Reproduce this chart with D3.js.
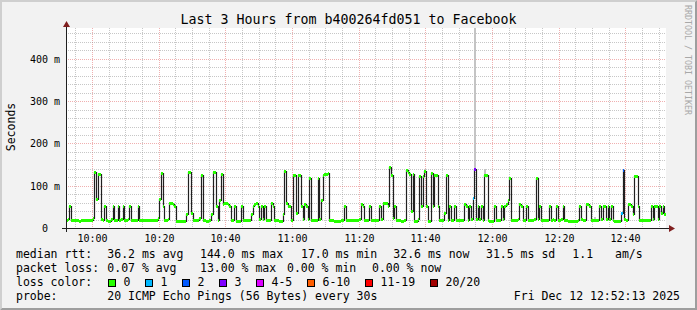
<!DOCTYPE html>
<html>
<head>
<meta charset="utf-8">
<script src="https://cdn.jsdelivr.net/npm/d3@7"></script>
<style>
  body { margin: 0; background: #f2f2f2; }
  svg { display: block; }
  text { font-family: "DejaVu Sans Mono", monospace; fill: #000; }
</style>
</head>
<body>
<div id="chart"></div>
<script>
// time window: last 3 hours, one median every 30 s
const START = Date.UTC(2025, 11, 12, 9, 52, 13);
const END = Date.UTC(2025, 11, 12, 12, 52, 13);
const STEP = 30000;

// median rtt in ms, 20 steps (10 minutes) per row
const medianMs = [
  18,21,53,18,18,18,18,18,16,18,18,18,18,18,18,18,24,132,69,128,
  128,22,20,53,18,17,17,22,53,18,20,53,18,21,53,18,18,22,53,18,
  18,18,18,53,18,18,18,18,18,18,18,18,18,18,18,24,68,131,53,18,
  18,22,58,58,56,53,17,17,17,17,17,17,33,133,133,36,18,18,18,18,
  24,126,18,18,17,17,18,33,133,133,51,20,67,128,57,58,58,56,53,18,
  18,53,17,17,17,53,18,18,18,18,18,33,51,57,58,53,22,53,22,53,
  18,18,20,58,53,18,18,18,17,17,33,134,58,53,51,18,126,126,35,126,
  126,53,22,57,53,22,118,18,18,18,18,118,22,66,126,128,128,131,18,18,
  18,17,17,17,17,18,18,53,18,18,18,18,18,18,18,18,22,57,53,18,
  18,18,53,18,18,18,18,18,53,22,58,58,58,53,144,126,24,53,18,18,
  18,17,17,18,136,132,128,40,128,17,17,22,122,51,122,134,51,17,17,130,
  51,126,126,51,18,18,18,35,126,18,53,18,18,53,18,18,18,18,20,57,
  53,18,53,22,70,140,22,53,22,53,18,126,126,18,17,17,17,53,18,18,
  18,53,22,53,57,67,118,18,18,18,18,22,57,51,18,18,53,18,18,18,
  18,22,118,22,53,18,18,18,18,18,53,18,22,18,53,18,18,22,53,18,
  18,17,17,17,17,17,17,18,53,22,18,18,57,57,53,18,18,18,18,18,
  53,22,53,53,22,53,22,53,18,17,17,17,17,35,136,22,18,57,57,51,
  33,124,122,51,18,18,18,18,18,18,18,53,22,53,53,22,53,35,53,32.6
];

// steps with packet loss (index into medianMs, lost pings out of 20)
const lossIdx = [244, 245, 333, 334];
const lossPings = [1, 3, 1, 2];

// visible smoke (highest ping) above the median
const smokeIdx = [204, 215, 245, 251, 317];
const smokeTop = [140, 140, 500, 140, 26];

const lossLabels = ["0", "1", "2", "3", "4-5", "6-10", "11-19", "20/20"];
const lossColors = ["#26ff00", "#00b8ff", "#0059ff", "#7e00ff", "#dd00ff", "#ff5e00", "#ff0000", "#a10000"];
const lossBins = [0, 1, 2, 3, 4, 6, 11, 20];

const yMax = 473;
const yMajorTicks = [100, 200, 300, 400];

const title = "Last 3 Hours from b400264fd051 to Facebook";
const rttStats = ["36.2 ms avg", "144.0 ms max", "17.0 ms min", "32.6 ms now", "31.5 ms sd", "1.1", "am/s"];
const lossStats = ["0.07 % avg", "13.00 % max", "0.00 % min", "0.00 % now"];
const probeText = "20 ICMP Echo Pings (56 Bytes) every 30s";
const stampText = "Fri Dec 12 12:52:13 2025";

const W = 697, H = 310;
const plot = { left: 66, right: 666, top: 28, bottom: 228 };
const gridMinor = "rgba(143,143,143,0.5)";
const gridMajor = "rgba(222,79,79,0.45)";

const svg = d3.select("#chart").append("svg")
  .attr("width", W).attr("height", H)
  .attr("viewBox", `0 0 ${W} ${H}`);

// background and rrdtool style frame shading
svg.append("rect").attr("width", W).attr("height", H).attr("fill", "#f2f2f2");
svg.append("path").attr("fill", "#cfcfcf")
  .attr("d", `M0,0H${W}L${W - 2},2H2V${H - 2}L0,${H}Z`);
svg.append("path").attr("fill", "#9e9e9e")
  .attr("d", `M${W},0V${H}H0L2,${H - 2}H${W - 2}V2Z`);

const x = d3.scaleUtc().domain([START, END]).range([plot.left, plot.right]);
const y = d3.scaleLinear().domain([0, yMax]).range([plot.bottom, plot.top]);
const px = v => Math.round(x(v));
const py = v => Math.round(y(v));

svg.append("rect")
  .attr("x", plot.left).attr("y", plot.top)
  .attr("width", plot.right - plot.left).attr("height", plot.bottom - plot.top)
  .attr("fill", "#ffffff");

svg.append("clipPath").attr("id", "plot-clip")
  .append("rect")
  .attr("x", plot.left).attr("y", plot.top)
  .attr("width", plot.right - plot.left).attr("height", plot.bottom - plot.top);

// grid
const grid = svg.append("g").attr("stroke-dasharray", "1,1").attr("stroke-width", 1);
const minorTimes = d3.utcMinute.every(5).range(new Date(START), new Date(END));
minorTimes.forEach(t => {
  const major = t.getUTCMinutes() % 20 === 0;
  grid.append("line")
    .attr("x1", px(t) + 0.5).attr("x2", px(t) + 0.5)
    .attr("y1", plot.top).attr("y2", plot.bottom)
    .attr("stroke", major ? gridMajor : gridMinor);
});
d3.range(20, yMax, 20).forEach(v => {
  grid.append("line")
    .attr("x1", plot.left).attr("x2", plot.right)
    .attr("y1", py(v) + 0.5).attr("y2", py(v) + 0.5)
    .attr("stroke", v % 100 === 0 ? gridMajor : gridMinor);
});

// data
const steps = medianMs.map((v, i) => ({ t: START + i * STEP, v: v, i: i }));
const lossAt = new Map(lossIdx.map((idx, k) => [idx, lossPings[k]]));
const colorFor = n => {
  let c = 0;
  lossBins.forEach((b, k) => { if (n >= b) c = k; });
  return lossColors[c];
};

const marks = svg.append("g").attr("clip-path", "url(#plot-clip)");

marks.selectAll("rect.smoke")
  .data(smokeIdx.map((idx, k) => ({ idx: idx, top: smokeTop[k] })))
  .join("rect")
  .attr("class", "smoke")
  .attr("x", d => px(START + d.idx * STEP))
  .attr("width", d => Math.max(1, px(START + (d.idx + 1) * STEP) - px(START + d.idx * STEP)))
  .attr("y", d => py(d.top))
  .attr("height", d => py(medianMs[d.idx]) - py(d.top))
  .attr("fill", "#c4c4c4");

const stepLine = d3.line()
  .x(d => px(d.t) + 0.5)
  .y(d => py(d.v) + 0.5)
  .curve(d3.curveStepAfter);

marks.append("path")
  .datum(steps.concat([{ t: END, v: medianMs[medianMs.length - 1] }]))
  .attr("d", stepLine)
  .attr("fill", "none")
  .attr("stroke", "#202020")
  .attr("stroke-width", 1.2);

marks.selectAll("rect.median")
  .data(steps)
  .join("rect")
  .attr("class", "median")
  .attr("shape-rendering", "crispEdges")
  .attr("x", d => px(d.t))
  .attr("width", d => Math.max(1, px(d.t + STEP) - px(d.t)))
  .attr("y", d => py(d.v) - 1)
  .attr("height", 3)
  .attr("fill", d => colorFor(lossAt.get(d.i) || 0));

// axes
const axisColor = "#1f1f1f", arrowColor = "#801f1f";
svg.append("line")
  .attr("x1", plot.left - 4).attr("x2", plot.right + 4)
  .attr("y1", plot.bottom + 0.5).attr("y2", plot.bottom + 0.5)
  .attr("stroke", axisColor);
svg.append("line")
  .attr("x1", plot.left + 0.5).attr("x2", plot.left + 0.5)
  .attr("y1", plot.bottom + 4).attr("y2", plot.top - 2)
  .attr("stroke", axisColor);
svg.append("path").attr("fill", arrowColor)
  .attr("d", `M${plot.right + 3},${plot.bottom - 3}L${plot.right + 9},${plot.bottom + 0.5}L${plot.right + 3},${plot.bottom + 4}Z`);
svg.append("path").attr("fill", arrowColor)
  .attr("d", `M${plot.left - 3},${plot.top - 1}L${plot.left + 0.5},${plot.top - 7}L${plot.left + 4},${plot.top - 1}Z`);

// tick labels
const labelFmt = d3.utcFormat("%H:%M");
svg.append("g").selectAll("text")
  .data(d3.utcMinute.every(20).range(new Date(START), new Date(END)))
  .join("text")
  .attr("x", d => px(d) + 0.5)
  .attr("y", 241.5)
  .attr("text-anchor", "middle")
  .attr("font-size", "10px")
  .text(d => labelFmt(d));

svg.append("g").selectAll("text")
  .data([0].concat(yMajorTicks))
  .join("text")
  .attr("x", d => d === 0 ? 48 : 60)
  .attr("y", d => py(d) + 4)
  .attr("text-anchor", "end")
  .attr("font-size", "10px")
  .text(d => d === 0 ? "0" : d + " m");

// titles
svg.append("text")
  .attr("x", 348.5).attr("y", 23.5)
  .attr("text-anchor", "middle")
  .attr("font-size", "13.3px")
  .text(title);

svg.append("text")
  .attr("transform", "translate(14.5,127) rotate(-90)")
  .attr("text-anchor", "middle")
  .attr("font-size", "11.5px")
  .text("Seconds");

svg.append("text")
  .attr("transform", "translate(685,5) rotate(90)")
  .attr("font-size", "8.3px")
  .style("fill", "#a8a8a8")
  .text("RRDTOOL / TOBI OETIKER");

// legend
const legend = svg.append("g").attr("font-size", "11.5px");
const rttX = [107.3, 200, 301, 393.3, 486, 572.3, 615];
const lossX = [107.3, 200, 287, 372];
const boxX = [108.5, 145.5, 182.5, 219.5, 256.5, 307.5, 365.5, 430.5];

legend.append("text").attr("x", 16).attr("y", 257.5).text("median rtt:");
rttStats.forEach((s, k) => legend.append("text").attr("x", rttX[k]).attr("y", 257.5).text(s));

legend.append("text").attr("x", 16).attr("y", 271.5).text("packet loss:");
lossStats.forEach((s, k) => legend.append("text").attr("x", lossX[k]).attr("y", 271.5).text(s));

legend.append("text").attr("x", 16).attr("y", 285.5).text("loss color:");
lossLabels.forEach((s, k) => {
  legend.append("rect")
    .attr("x", boxX[k]).attr("y", 279.5)
    .attr("width", 7).attr("height", 7)
    .attr("fill", lossColors[k])
    .attr("stroke", "#000").attr("stroke-width", 1);
  legend.append("text").attr("x", boxX[k] + 15).attr("y", 285.5).text(s);
});

legend.append("text").attr("x", 16).attr("y", 299.5).text("probe:");
legend.append("text").attr("x", 107.3).attr("y", 299.5).text(probeText);
legend.append("text").attr("x", 680).attr("y", 299.5).attr("text-anchor", "end").text(stampText);
</script>
</body>
</html>
